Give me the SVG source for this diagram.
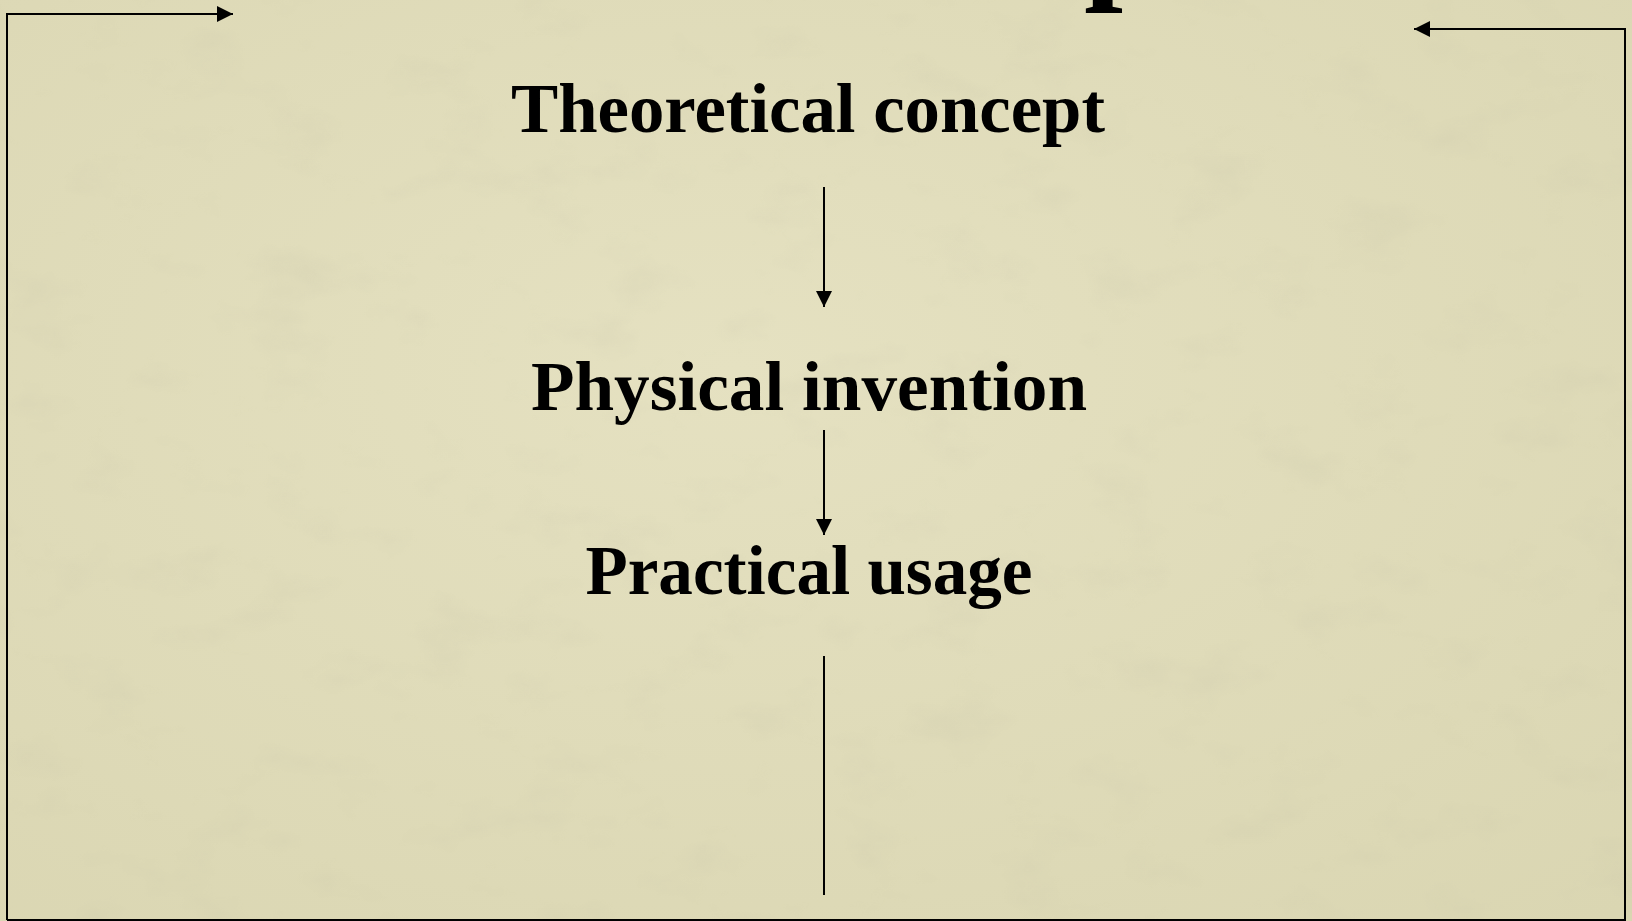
<svg xmlns="http://www.w3.org/2000/svg" width="1632" height="921" viewBox="0 0 1632 921">
<defs>
<filter id="paper" x="0" y="0" width="100%" height="100%">
<feTurbulence type="fractalNoise" baseFrequency="0.012 0.02" numOctaves="4" seed="3" result="n"/>
<feColorMatrix in="n" type="matrix" values="0 0 0 0 0.55  0 0 0 0 0.53  0 0 0 0 0.38  0 0 0 -1.2 0.55" result="c"/>
<feComposite in="c" in2="SourceGraphic" operator="in"/>
</filter>
<radialGradient id="bg" cx="0.45" cy="0.4" r="0.8">
<stop offset="0" stop-color="#e5e1c1"/>
<stop offset="1" stop-color="#dad6b2"/>
</radialGradient>
<marker id="ah" viewBox="0 0 16 16" refX="16" refY="8" markerWidth="16" markerHeight="16" markerUnits="userSpaceOnUse" orient="auto">
<path d="M0,0 L16,8 L0,16 Z" fill="#000"/>
</marker>
<style>
.lbl{font-family:"Liberation Serif","Times New Roman",serif;font-weight:bold;font-size:70px;fill:#000;text-anchor:middle}
.ln{stroke:#000;stroke-width:2;fill:none}
</style>
</defs>
<rect width="1632" height="921" fill="url(#bg)"/>
<rect width="1632" height="921" fill="#fff" filter="url(#paper)" opacity="0.35"/>
<text x="1084" y="-17" font-family="Liberation Serif, serif" font-weight="bold" font-size="140" fill="#000">p</text>
<g id="connectors">
<path class="ln" d="M7,920 L7,14 L233,14" marker-end="url(#ah)"/>
<path class="ln" d="M7,920 L1625,920 L1625,29 L1414,29" marker-end="url(#ah)"/>
<path class="ln" d="M824,187 L824,307" marker-end="url(#ah)"/>
<path class="ln" d="M824,430 L824,535" marker-end="url(#ah)"/>
<path class="ln" d="M824,656 L824,895"/>
</g>
<g id="theoretical"><text class="lbl" x="808" y="132" textLength="594" lengthAdjust="spacingAndGlyphs">Theoretical concept</text></g>
<g id="physical"><text class="lbl" x="809" y="410" textLength="556" lengthAdjust="spacingAndGlyphs">Physical invention</text></g>
<g id="practical"><text class="lbl" x="809" y="594" textLength="447" lengthAdjust="spacingAndGlyphs">Practical usage</text></g>
</svg>
